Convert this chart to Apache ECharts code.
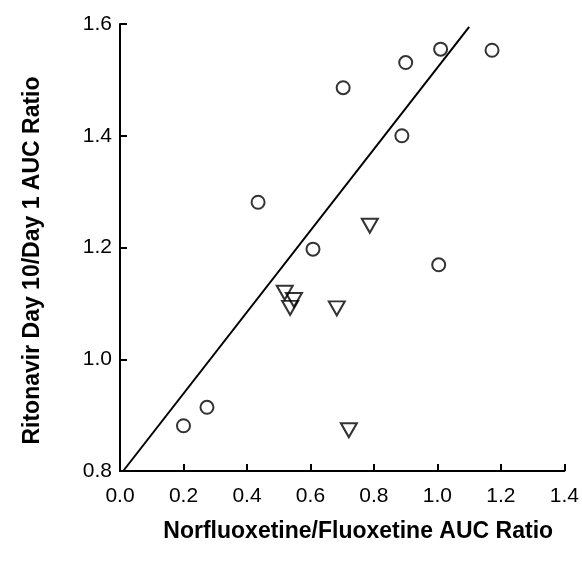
<!DOCTYPE html>
<html>
<head>
<meta charset="utf-8">
<script src="https://cdn.jsdelivr.net/npm/echarts@6/dist/echarts.min.js"></script>
<style>html,body{margin:0;padding:0;background:#fff}#c{width:582px;height:563px}</style>
</head>
<body>
<div id="c"></div>
<script>
const xTicks = [0.0, 0.2, 0.4, 0.6, 0.8, 1.0, 1.2, 1.4];
const yTicks = [0.8, 1.0, 1.2, 1.4, 1.6];
const circleX = [0.200, 0.274, 0.435, 0.608, 0.703, 0.888, 0.900, 1.004, 1.010, 1.172];
const circleY = [0.881, 0.914, 1.281, 1.197, 1.486, 1.400, 1.531, 1.169, 1.555, 1.553];
const triX = [0.519, 0.536, 0.548, 0.683, 0.721, 0.787];
const triY = [1.119, 1.092, 1.106, 1.091, 0.873, 1.239];
const lineX = [0.01, 1.10];
const lineY = [0.80, 1.595];

const chart = echarts.init(document.getElementById('c'));
const font = 'Liberation Sans, Arial, sans-serif';
chart.setOption({
  animation: false,
  grid: {left: 120, right: 16, top: 24, bottom: 92, containLabel: false},
  xAxis: {
    type: 'value', min: 0, max: 1.4, interval: 0.2,
    name: 'Norfluoxetine/Fluoxetine AUC Ratio',
    nameLocation: 'middle', nameGap: 49,
    nameTextStyle: {fontFamily: font, fontWeight: 'bold', fontSize: 23, color: '#000', padding: [0, 0, 0, 32]},
    axisLine: {show: true, lineStyle: {color: '#000', width: 2}},
    axisTick: {show: true, inside: true, length: 7, lineStyle: {color: '#000', width: 2}},
    axisLabel: {fontFamily: font, fontSize: 21, color: '#000', margin: 15,
      formatter: v => xTicks.find(t => Math.abs(t - v) < 1e-9).toFixed(1)},
    splitLine: {show: false}
  },
  yAxis: {
    type: 'value', min: 0.8, max: 1.6, interval: 0.2,
    name: 'Ritonavir Day 10/Day 1 AUC Ratio',
    nameLocation: 'middle', nameGap: 76, nameRotate: 90,
    nameTextStyle: {fontFamily: font, fontWeight: 'bold', fontSize: 23, color: '#000', padding: [0, 26, 0, 0]},
    axisLine: {show: true, lineStyle: {color: '#000', width: 2}},
    axisTick: {show: true, inside: true, length: 7, lineStyle: {color: '#000', width: 2}},
    axisLabel: {fontFamily: font, fontSize: 21, color: '#000', margin: 8,
      formatter: v => yTicks.find(t => Math.abs(t - v) < 1e-9).toFixed(1)},
    splitLine: {show: false}
  },
  series: [
    {
      type: 'line', data: lineX.map((x, i) => [x, lineY[i]]),
      symbol: 'none', lineStyle: {color: '#000', width: 2}, z: 1
    },
    {
      type: 'scatter', data: circleX.map((x, i) => [x, circleY[i]]),
      symbol: 'circle', symbolSize: 13,
      itemStyle: {color: 'rgba(255,255,255,0)', borderColor: '#000', borderWidth: 2}, z: 3
    },
    {
      type: 'scatter', data: triX.map((x, i) => [x, triY[i]]),
      symbol: 'triangle', symbolSize: [16, 14], symbolRotate: 180,
      itemStyle: {color: 'rgba(255,255,255,0)', borderColor: '#000', borderWidth: 2}, z: 3
    }
  ]
});
</script>
</body>
</html>
